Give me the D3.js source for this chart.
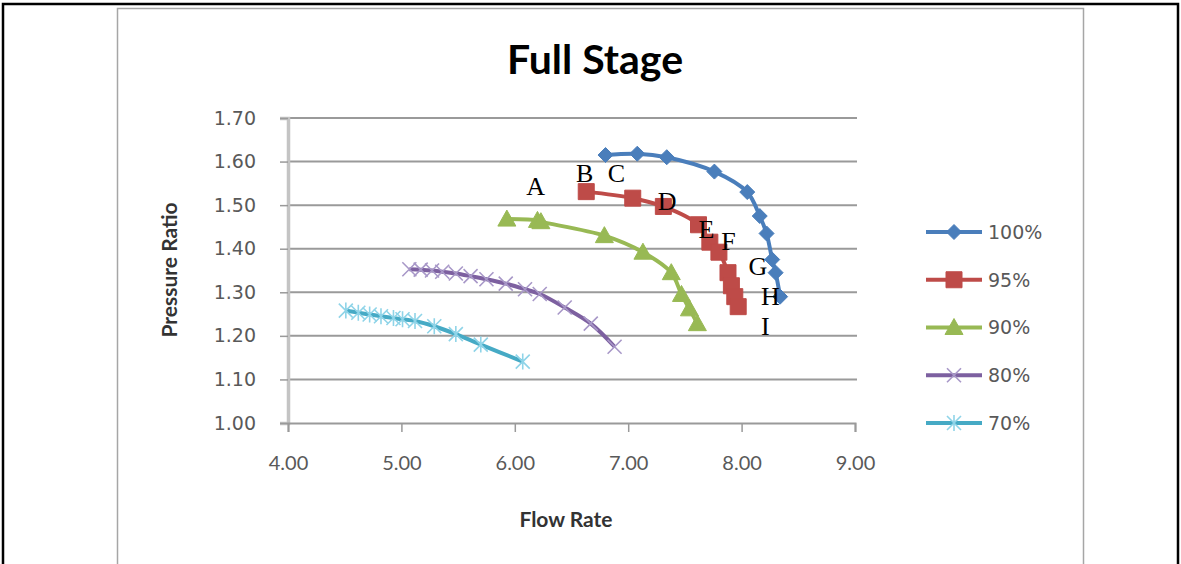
<!DOCTYPE html>
<html>
<head>
<meta charset="utf-8">
<script src="https://cdn.jsdelivr.net/npm/d3@7"></script>
<style>
  body { margin: 0; background: #fff; }
  svg { display: block; }
</style>
</head>
<body>
<svg id="chart"></svg>
<script>
// chart size
var width = 1181;
var height = 564;

// data
var speeds = ["100%", "95%", "90%", "80%", "70%"];
var flow100 = [6.80, 7.08, 7.34, 7.76, 8.05, 8.16, 8.22, 8.27, 8.30, 8.34];
var pr100   = [1.615, 1.618, 1.610, 1.577, 1.530, 1.475, 1.435, 1.375, 1.345, 1.290];
var flow95 = [6.63, 7.04, 7.31, 7.62, 7.72, 7.80, 7.88, 7.91, 7.94, 7.97];
var pr95   = [1.531, 1.516, 1.497, 1.455, 1.415, 1.392, 1.345, 1.315, 1.290, 1.267];
var flow90 = [5.93, 6.20, 6.23, 6.79, 7.13, 7.38, 7.47, 7.54, 7.61];
var pr90   = [1.468, 1.465, 1.462, 1.430, 1.392, 1.345, 1.295, 1.262, 1.228];
var flow80 = [5.07, 5.17, 5.27, 5.36, 5.48, 5.61, 5.75, 5.92, 6.09, 6.22, 6.44, 6.67, 6.88];
var pr80   = [1.353, 1.352, 1.350, 1.347, 1.343, 1.337, 1.330, 1.320, 1.307, 1.296, 1.265, 1.228, 1.175];
var flow70 = [4.51, 4.62, 4.72, 4.82, 4.93, 5.01, 5.12, 5.29, 5.48, 5.70, 6.07];
var pr70   = [1.258, 1.253, 1.249, 1.245, 1.241, 1.238, 1.234, 1.222, 1.204, 1.180, 1.141];

var xTicks = [4, 5, 6, 7, 8, 9];
var yTicks = [1.0, 1.1, 1.2, 1.3, 1.4, 1.5, 1.6, 1.7];

// letter marks placed on the plot (flow, pressure ratio)
var noteText = ["A", "B", "C", "D", "E", "F", "G", "H", "I"];
var noteFlow = [6.10, 6.54, 6.82, 7.26, 7.62, 7.82, 8.06, 8.17, 8.17];
var notePr   = [1.523, 1.554, 1.554, 1.489, 1.425, 1.397, 1.340, 1.270, 1.202];

var colors = ["#4a7ebb", "#be4b48", "#98b954", "#7d60a0", "#46aac5"];
var markerColors = ["#4a7ebb", "#be4b48", "#98b954", "#a898c8", "#8fd4e8"];
var markerTypes = ["diamond", "square", "triangle", "x", "star"];

var series = [
    { flow: flow100, pr: pr100 },
    { flow: flow95, pr: pr95 },
    { flow: flow90, pr: pr90 },
    { flow: flow80, pr: pr80 },
    { flow: flow70, pr: pr70 }
].map((s, i) => ({
    name: speeds[i],
    color: colors[i],
    mcolor: markerColors[i],
    marker: markerTypes[i],
    points: s.flow.map((f, j) => ({ x: f, y: s.pr[j] }))
}));

var svg = d3.select("#chart")
    .attr("width", width)
    .attr("height", height);

// outer table-cell border
svg.append("path")
    .attr("d", "M3,564 V4 H1178 V564")
    .attr("fill", "none")
    .attr("stroke", "#000")
    .attr("stroke-width", 2.5);

// chart frame
svg.append("rect")
    .attr("x", 117.5)
    .attr("y", 8.5)
    .attr("width", 966)
    .attr("height", 570)
    .attr("fill", "#fff")
    .attr("stroke", "#a6a6a6")
    .attr("stroke-width", 1.5);

var xScale = d3.scaleLinear()
    .domain([4, 9])
    .range([288, 855]);
var yScale = d3.scaleLinear()
    .domain([1.0, 1.7])
    .range([423, 118]);

// gridlines
svg.append("g")
    .selectAll("line")
    .data(yTicks.slice(1))
    .enter()
    .append("line")
        .attr("x1", xScale(4))
        .attr("x2", xScale(9) + 2)
        .attr("y1", d => yScale(d))
        .attr("y2", d => yScale(d))
        .attr("stroke", "#9a9a9a")
        .attr("stroke-width", 2);

// y axis
var yAxis = d3.axisLeft(yScale)
    .tickValues(yTicks)
    .tickSize(8)
    .tickPadding(24)
    .tickFormat(d3.format(".2f"));
var gy = svg.append("g")
    .attr("transform", "translate(" + xScale(4) + ",0)")
    .call(yAxis);
gy.select(".domain").attr("stroke", "#c4c4c4").attr("stroke-width", 3.5);
gy.selectAll(".tick line").attr("stroke", "#9a9a9a").attr("stroke-width", 1.5);
gy.selectAll(".tick text")
    .attr("fill", "#595959")
    .style("font-family", "DejaVu Sans")
    .style("font-size", "19px");

// x axis
var xAxis = d3.axisBottom(xScale)
    .tickValues(xTicks)
    .tickSize(9)
    .tickPadding(24)
    .tickFormat(d3.format(".2f"));
var gx = svg.append("g")
    .attr("transform", "translate(0," + yScale(1.0) + ")")
    .call(xAxis);
gx.select(".domain").attr("stroke", "#9a9a9a").attr("stroke-width", 2);
gx.selectAll(".tick line").attr("stroke", "#9a9a9a").attr("stroke-width", 1.5);
gx.selectAll(".tick text")
    .attr("fill", "#595959")
    .style("font-family", "Lato")
    .style("font-size", "20px");

// lines
var line = d3.line()
    .x(d => xScale(d.x))
    .y(d => yScale(d.y))
    .curve(d3.curveCatmullRom.alpha(0.5));

function markerPath(type) {
    if (type === "diamond") return "M0,-7.5 L7.5,0 L0,7.5 L-7.5,0 Z";
    if (type === "square") return "M-8,-8 H8 V8 H-8 Z";
    if (type === "triangle") return "M0,-9 L9,7 L-9,7 Z";
    if (type === "x") return "M-7,-7 L7,7 M-7,7 L7,-7";
    return "M-7,-7 L7,7 M-7,7 L7,-7 M0,-8 V8";
}

function drawMarker(sel, s) {
    var filled = s.marker !== "x" && s.marker !== "star";
    sel.append("path")
        .attr("d", markerPath(s.marker))
        .attr("fill", filled ? s.mcolor : "none")
        .attr("stroke", s.mcolor)
        .attr("stroke-width", filled ? 1 : 1.6);
}

var seriesG = svg.selectAll(".series")
    .data(series)
    .enter()
    .append("g")
        .attr("class", "series");

seriesG.append("path")
    .attr("d", d => line(d.points))
    .attr("fill", "none")
    .attr("stroke", d => d.color)
    .attr("stroke-width", 4)
    .attr("stroke-linejoin", "round");

seriesG.each(function(s) {
    d3.select(this).selectAll(".pt")
        .data(s.points)
        .enter()
        .append("g")
            .attr("class", "pt")
            .attr("transform", d => "translate(" + xScale(d.x) + "," + yScale(d.y) + ")")
            .each(function() { drawMarker(d3.select(this), s); });
});

// letter notes
svg.append("g")
    .selectAll("text")
    .data(noteText)
    .enter()
    .append("text")
        .attr("x", (d, i) => xScale(noteFlow[i]))
        .attr("y", (d, i) => yScale(notePr[i]))
        .style("font-family", "Liberation Serif")
        .style("font-size", "26px")
        .attr("fill", "#000")
        .text(d => d);

// legend
var legend = svg.append("g")
    .selectAll("g")
    .data(series)
    .enter()
    .append("g")
        .attr("transform", (d, i) => "translate(926," + (232 + i * 47.75) + ")");

legend.append("line")
    .attr("x1", 0)
    .attr("x2", 56)
    .attr("stroke", d => d.color)
    .attr("stroke-width", 4);

legend.append("g")
    .attr("transform", "translate(28,0)")
    .each(function(s) { drawMarker(d3.select(this), s); });

legend.append("text")
    .attr("x", 62)
    .attr("dy", "0.36em")
    .attr("fill", "#595959")
    .style("font-family", "DejaVu Sans")
    .style("font-size", "19px")
    .text(d => d.name);

// title
svg.append("text")
    .attr("x", 595)
    .attr("y", 74)
    .style("text-anchor", "middle")
    .style("font-family", "Lato")
    .style("font-weight", "bold")
    .style("font-size", "41px")
    .attr("fill", "#000")
    .text("Full Stage");

// x axis label
svg.append("text")
    .attr("x", 566)
    .attr("y", 527)
    .style("text-anchor", "middle")
    .style("font-family", "Lato")
    .style("font-weight", "bold")
    .style("font-size", "21px")
    .attr("fill", "#333")
    .text("Flow Rate");

// y axis label
svg.append("text")
    .attr("transform", "rotate(-90)")
    .attr("x", -270)
    .attr("y", 177)
    .style("text-anchor", "middle")
    .style("font-family", "Lato")
    .style("font-weight", "bold")
    .style("font-size", "21px")
    .attr("fill", "#333")
    .text("Pressure Ratio");
</script>
</body>
</html>
